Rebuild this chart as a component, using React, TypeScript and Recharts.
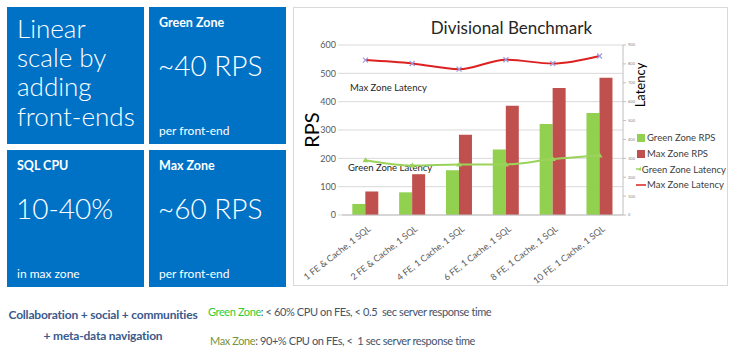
import React from 'react';
import { ComposedChart, Bar, Line, XAxis, YAxis, CartesianGrid, Legend } from 'recharts';

const categories = [
  '1 FE & Cache, 1 SQL',
  '2 FE & Cache, 1 SQL',
  '4 FE, 1 Cache, 1 SQL',
  '6 FE, 1 Cache,  1 SQL',
  '8 FE, 1 Cache,  1 SQL',
  '10 FE, 1 Cache, 1 SQL',
];
const greenZoneRps = [39, 80, 158, 231, 321, 360];
const maxZoneRps = [83, 144, 283, 386, 448, 484];
const greenZoneLatency = [290, 262, 268, 268, 296, 315];
const maxZoneLatency = [820, 802, 772, 822, 802, 842];
const rpsTicks = [0, 100, 200, 300, 400, 500, 600];
const latencyTicks = [0, 100, 200, 300, 400, 500, 600, 700, 800, 900];
const legendOrder = ['greenRps', 'maxRps', 'greenLat', 'maxLat'];

const chartData = categories.map((name, i) => ({
  name,
  greenRps: greenZoneRps[i],
  maxRps: maxZoneRps[i],
  greenLat: greenZoneLatency[i],
  maxLat: maxZoneLatency[i],
}));

const FONT = 'Lato, "Open Sans", sans-serif';
const BLUE = '#0072C6';
const GREEN = '#92D050';
const RED = '#C0504D';
const LINE_RED = '#DD2020';
const LINE_GREEN = '#9BD35A';

const XTick = (props: any) => {
  const { x, y, payload } = props;
  const ax = x + 6;
  const ay = y + 7;
  return (
    <text
      x={ax}
      y={ay}
      transform={`rotate(-38, ${ax}, ${ay})`}
      textAnchor="end"
      fontSize={9}
      fill="#595959"
      fontFamily={FONT}
    >
      {payload.value}
    </text>
  );
};

const CrossDot = (props: any) => {
  const { cx, cy } = props;
  if (cx == null || cy == null) return null;
  return (
    <path
      d={`M${cx - 2.5},${cy - 2.5}L${cx + 2.5},${cy + 2.5}M${cx - 2.5},${cy + 2.5}L${cx + 2.5},${cy - 2.5}`}
      stroke="#9C9CE0"
      strokeWidth={1.2}
    />
  );
};

const TriDot = (props: any) => {
  const { cx, cy } = props;
  if (cx == null || cy == null) return null;
  return <path d={`M${cx},${cy - 3}L${cx + 3},${cy + 2}L${cx - 3},${cy + 2}Z`} fill={LINE_GREEN} />;
};

const renderLegend = (props: any) => {
  const payload = [...(props.payload || [])].sort(
    (a: any, b: any) => legendOrder.indexOf(a.dataKey) - legendOrder.indexOf(b.dataKey),
  );
  return (
    <div style={{ fontFamily: FONT, fontSize: 9.5, color: '#404040', whiteSpace: 'nowrap' }}>
      {payload.map((entry: any) => {
        const isBar = entry.dataKey === 'greenRps' || entry.dataKey === 'maxRps';
        return (
          <div key={entry.dataKey} style={{ display: 'flex', alignItems: 'center', height: 15.7 }}>
            <svg width={10} height={10} style={{ marginRight: 1 }}>
              {isBar ? (
                <rect x={1} y={1} width={8} height={8} fill={entry.color} />
              ) : (
                <>
                  <line x1={0} y1={5} x2={10} y2={5} stroke={entry.color} strokeWidth={1.5} />
                  {entry.dataKey === 'greenLat' && <path d="M5,2.5L7.5,6.5L2.5,6.5Z" fill={entry.color} />}
                </>
              )}
            </svg>
            <span>{entry.value}</span>
          </div>
        );
      })}
    </div>
  );
};

const Tile = ({ left, top, children }: { left: number; top: number; children: React.ReactNode }) => (
  <div
    style={{
      position: 'absolute',
      left,
      top,
      width: 137,
      height: 137,
      background: BLUE,
      color: '#fff',
      fontFamily: FONT,
    }}
  >
    {children}
  </div>
);

const abs = (left: number, top: number, extra: React.CSSProperties = {}): React.CSSProperties => ({
  position: 'absolute',
  left,
  top,
  whiteSpace: 'nowrap',
  ...extra,
});

export default function App() {
  return (
    <div style={{ position: 'absolute', left: 0, top: 0, width: 734, height: 353, background: '#fff', overflow: 'hidden' }}>
      <Tile left={7} top={7}>
        <div style={abs(10, 7, { fontSize: 26, fontWeight: 300, lineHeight: '29.2px', whiteSpace: 'normal' })}>
          Linear
          <br />
          scale by
          <br />
          adding
          <br />
          front-ends
        </div>
      </Tile>
      <Tile left={149} top={7}>
        <div style={abs(10, 8, { fontSize: 12.5, fontWeight: 700 })}>Green Zone</div>
        <div style={abs(9, 41, { fontSize: 28, fontWeight: 300 })}>~40 RPS</div>
        <div style={abs(10, 116, { fontSize: 12 })}>per front-end</div>
      </Tile>
      <Tile left={7} top={150}>
        <div style={abs(10, 8, { fontSize: 12.5, fontWeight: 700 })}>SQL CPU</div>
        <div style={abs(9, 41, { fontSize: 28, fontWeight: 300 })}>10-40%</div>
        <div style={abs(10, 116, { fontSize: 12 })}>in max zone</div>
      </Tile>
      <Tile left={149} top={150}>
        <div style={abs(10, 8, { fontSize: 12.5, fontWeight: 700 })}>Max Zone</div>
        <div style={abs(9, 41, { fontSize: 28, fontWeight: 300 })}>~60 RPS</div>
        <div style={abs(10, 116, { fontSize: 12 })}>per front-end</div>
      </Tile>

      <div style={{ position: 'absolute', left: 293, top: 7, width: 435, height: 279, border: '1px solid #D9D9D9', boxSizing: 'border-box' }}>
        <div style={abs(0, 9, { width: 435, textAlign: 'center', fontFamily: FONT, fontSize: 17, color: '#262626' })}>
          Divisional Benchmark
        </div>
        <div style={abs(56, 74, { fontFamily: FONT, fontSize: 9.5, color: '#262626' })}>Max Zone Latency</div>
        <div style={abs(54, 154, { fontFamily: FONT, fontSize: 9.5, color: '#262626' })}>Green Zone Latency</div>
        <div style={{ position: 'absolute', left: -1, top: -1 }}>
          <ComposedChart
            width={435}
            height={279}
            data={chartData}
            margin={{ top: 38, right: 85, bottom: 0, left: 9 }}
            barGap={0}
            barCategoryGap="22%"
          >
            <CartesianGrid vertical={false} stroke="#D9D9D9" />
            <XAxis
              dataKey="name"
              height={71}
              interval={0}
              tick={<XTick />}
              tickLine={false}
              axisLine={{ stroke: '#BFBFBF' }}
            />
            <YAxis
              domain={[0, 600]}
              ticks={rpsTicks}
              width={40}
              axisLine={false}
              tickLine={{ stroke: '#D9D9D9' }}
              tickSize={4}
              tick={{ fontSize: 9, fill: '#595959', fontFamily: FONT }}
              label={{ value: 'RPS', angle: -90, position: 'center', dx: -10, fontSize: 20, fill: '#000', fontFamily: FONT }}
            />
            <YAxis
              yAxisId="right"
              orientation="right"
              domain={[0, 900]}
              ticks={latencyTicks}
              width={20}
              axisLine={{ stroke: '#BFBFBF' }}
              tickLine={{ stroke: '#BFBFBF' }}
              tickSize={3}
              tick={{ fontSize: 4, fill: '#7F7F7F', fontFamily: FONT }}
              label={{ value: 'Latency', angle: -90, position: 'center', dx: 7, dy: -45, fontSize: 13, fill: '#000', fontFamily: FONT }}
            />
            <Legend
              layout="vertical"
              align="center"
              verticalAlign="middle"
              content={renderLegend}
              wrapperStyle={{ left: 343, top: 123, width: 90 }}
            />
            <Bar dataKey="greenRps" name="Green Zone RPS" fill={GREEN} legendType="square" isAnimationActive={false} />
            <Bar dataKey="maxRps" name="Max Zone RPS" fill={RED} legendType="square" isAnimationActive={false} />
            <Line
              yAxisId="right"
              type="monotone"
              dataKey="greenLat"
              name="Green Zone Latency"
              stroke={LINE_GREEN}
              strokeWidth={2}
              dot={<TriDot />}
              legendType="line"
              isAnimationActive={false}
            />
            <Line
              yAxisId="right"
              type="monotone"
              dataKey="maxLat"
              name="Max Zone Latency"
              stroke={LINE_RED}
              strokeWidth={2}
              dot={<CrossDot />}
              legendType="line"
              isAnimationActive={false}
            />
          </ComposedChart>
        </div>
      </div>

      <div style={abs(0, 304, { width: 206, textAlign: 'center', fontFamily: FONT, fontWeight: 700, fontSize: 12, letterSpacing: -0.2, color: '#3A5A8C', lineHeight: '21px' })}>
        Collaboration + social + communities
        <br />+ meta-data navigation
      </div>
      <div style={abs(208, 305, { fontFamily: FONT, fontSize: 11, letterSpacing: -0.4, color: '#44546A' })}>
        <span style={{ color: '#33CC33' }}>Green Zone</span>: &lt; 60% CPU on FEs, &lt; 0.5&nbsp; sec server response time
      </div>
      <div style={abs(210, 334, { fontFamily: FONT, fontSize: 11, letterSpacing: -0.4, color: '#44546A' })}>
        <span style={{ color: '#77933C' }}>Max Zone</span>: 90+% CPU on FEs, &lt;&nbsp; 1 sec server response time
      </div>
    </div>
  );
}
